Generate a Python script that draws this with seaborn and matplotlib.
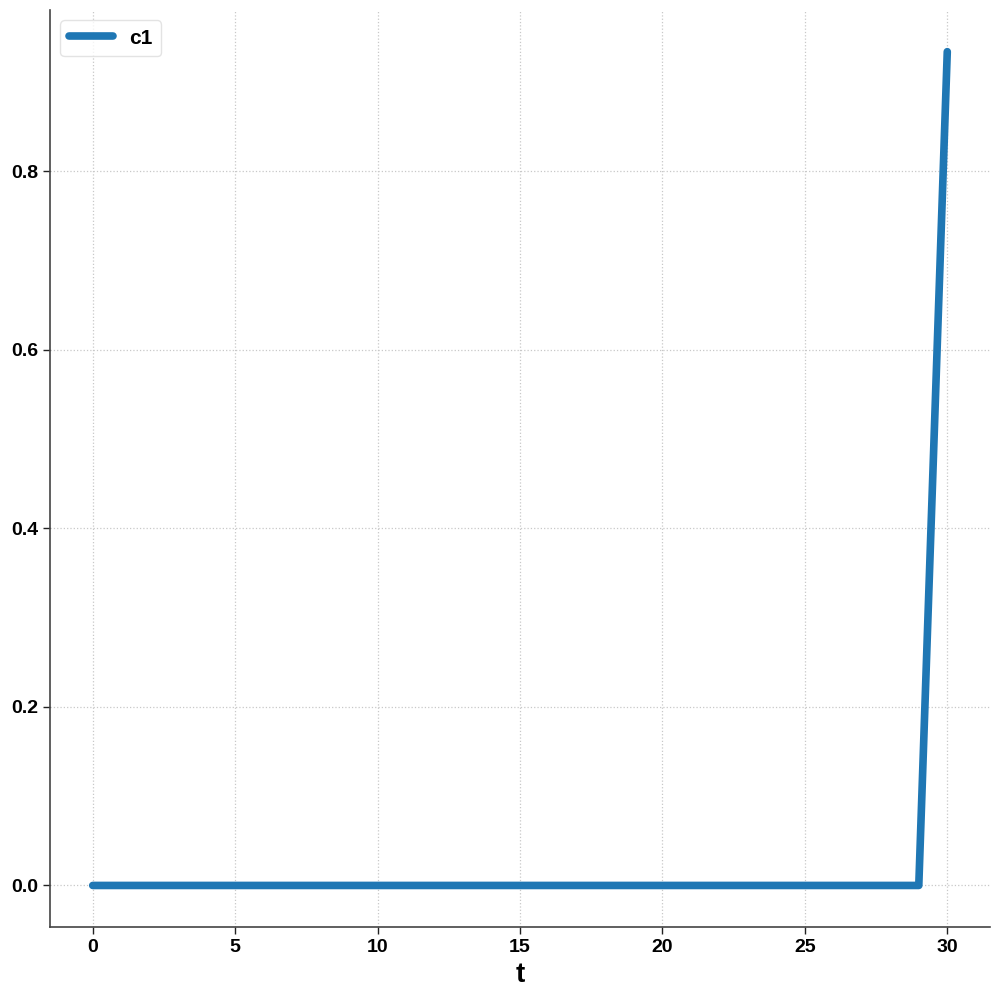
import matplotlib
matplotlib.use("Agg")
import matplotlib.pyplot as plt
import seaborn as sns
import pandas as pd
import numpy as np

t = list(range(31))
c1 = [0.0] * 30 + [0.934]
series_name = "c1"

sns.set_style("ticks", {"axes.grid": True, "grid.linestyle": ":", "grid.color": "#c8c8c8"})
plt.rcParams['font.family'] = ['Liberation Sans', 'DejaVu Sans']
plt.rcParams['font.weight'] = 'bold'

df = pd.DataFrame({"t": t, series_name: c1})

fig = plt.figure(figsize=(10, 9.98), dpi=100)
ax = fig.add_axes([0.05, 0.071, 0.94, 0.919])
sns.lineplot(data=df, x="t", y=series_name, ax=ax, linewidth=5.5, color="#1f77b4", label=series_name)

ax.set_xticks([0, 5, 10, 15, 20, 25, 30])
ax.set_yticks([0.0, 0.2, 0.4, 0.6, 0.8])
ax.set_yticklabels(["0.0", "0.2", "0.4", "0.6", "0.8"])
ax.tick_params(labelsize=14, colors="#222222", length=5, width=1)
for lab in ax.get_xticklabels() + ax.get_yticklabels():
    lab.set_fontweight("bold")
    lab.set_color("black")
ax.set_xlabel("t", fontsize=20, fontweight="bold", color="black")
ax.set_ylabel("")
sns.despine(ax=ax)
for s in ["left", "bottom"]:
    ax.spines[s].set_color("#444444")
    ax.spines[s].set_linewidth(1.2)
ax.grid(True, linestyle=":", color="#c8c8c8", linewidth=0.9)

leg = ax.legend(loc="upper left", prop={"weight": "bold", "size": 15}, frameon=True,
                handlelength=2.1, borderpad=0.4, labelcolor="black")
leg.get_frame().set_edgecolor("#dddddd")

fig.savefig("out.png", dpi=100)
